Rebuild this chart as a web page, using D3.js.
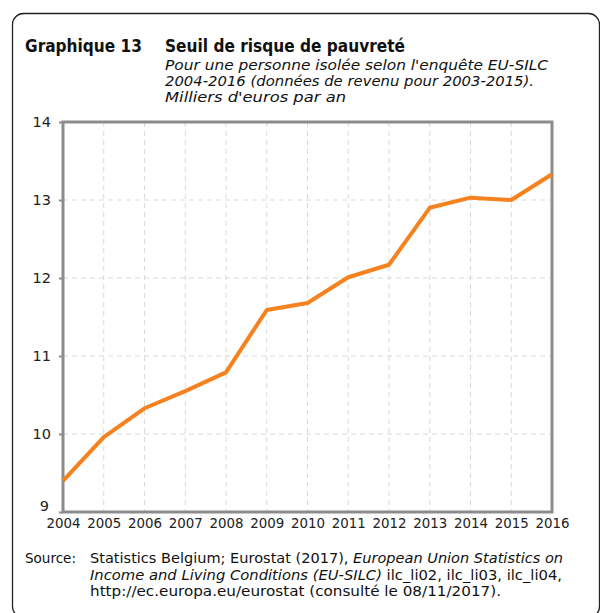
<!DOCTYPE html>
<html>
<head>
<meta charset="utf-8">
<script src="https://cdn.jsdelivr.net/npm/d3@7"></script>
<style>
  body { margin: 0; background: #fff; }
  svg { display: block; font-family: "DejaVu Sans", Verdana, sans-serif; }
</style>
</head>
<body>
<svg id="chart" width="600" height="613"></svg>
<script>
// years on x axis, threshold in thousand euros per year
var years = [2004, 2005, 2006, 2007, 2008, 2009, 2010, 2011, 2012, 2013, 2014, 2015, 2016];
var seuil = [9.40, 9.96, 10.33, 10.55, 10.79, 11.59, 11.68, 12.01, 12.17, 12.90, 13.03, 13.00, 13.33];
var yTicks = [9, 10, 11, 12, 13, 14];

var svg = d3.select('#chart');

// outer frame (bottom and right edges run off the picture)
svg.append('rect')
  .attr('x', 12.5).attr('y', 13.5)
  .attr('width', 587).attr('height', 604)
  .attr('rx', 11)
  .attr('fill', 'none')
  .attr('stroke', '#222')
  .attr('stroke-width', 1.3);

// titles
svg.append('text').attr('x', 25).attr('y', 52)
  .attr('font-size', 17.5).attr('font-weight', 'bold').attr('fill', '#111')
  .attr('textLength', 117).attr('lengthAdjust', 'spacingAndGlyphs')
  .text('Graphique 13');
svg.append('text').attr('x', 165).attr('y', 52)
  .attr('font-size', 17.5).attr('font-weight', 'bold').attr('fill', '#111')
  .attr('textLength', 240).attr('lengthAdjust', 'spacingAndGlyphs')
  .text('Seuil de risque de pauvreté');

var sub = [
  {t: "Pour une personne isolée selon l'enquête EU-SILC", w: 383},
  {t: "2004-2016 (données de revenu pour 2003-2015).", w: 369},
  {t: "Milliers d'euros par an", w: 181}
];
sub.forEach(function(s, i){
  svg.append('text').attr('x', 165).attr('y', 70 + i * 16)
    .attr('font-size', 14).attr('font-style', 'italic').attr('fill', '#111')
    .attr('textLength', s.w).attr('lengthAdjust', 'spacingAndGlyphs')
    .text(s.t);
});

var margin = {left: 63, right: 552, top: 122, bottom: 512};

var x = d3.scaleLinear().domain([2004, 2016]).range([margin.left, margin.right]);
var y = d3.scaleLinear().domain([9, 14]).range([margin.bottom, margin.top]);

// grid
var grid = svg.append('g');
grid.selectAll('.vg').data(years.slice(1, -1)).enter().append('line')
  .attr('x1', function(d){ return x(d); }).attr('x2', function(d){ return x(d); })
  .attr('y1', margin.top).attr('y2', margin.bottom)
  .attr('stroke', '#d9d9d9').attr('stroke-width', 1).attr('stroke-dasharray', '5,4');
grid.selectAll('.hg').data(yTicks.slice(1, -1)).enter().append('line')
  .attr('x1', margin.left).attr('x2', margin.right)
  .attr('y1', function(d){ return y(d); }).attr('y2', function(d){ return y(d); })
  .attr('stroke', '#d9d9d9').attr('stroke-width', 1).attr('stroke-dasharray', '5,4');

// axes
var xAxis = d3.axisBottom(x).tickValues(years).tickFormat(d3.format('d')).tickSize(0).tickPadding(6);
var gx = svg.append('g').attr('transform', 'translate(0,' + margin.bottom + ')').call(xAxis);
gx.select('.domain').remove();
gx.selectAll('text').attr('font-size', 14.5).attr('fill', '#222')
  .attr('font-family', '"DejaVu Sans", sans-serif')
  .attr('textLength', 34).attr('lengthAdjust', 'spacingAndGlyphs');

var yAxis = d3.axisLeft(y).tickValues(yTicks).tickFormat(d3.format('d')).tickSize(4).tickPadding(8);
var gy = svg.append('g').attr('transform', 'translate(' + margin.left + ',0)').call(yAxis);
gy.select('.domain').remove();
gy.selectAll('line').attr('stroke', '#8c8c8c').attr('stroke-width', 2);
gy.selectAll('text').attr('font-size', 14.5).attr('fill', '#222')
  .attr('font-family', '"DejaVu Sans", sans-serif');
gy.selectAll('.tick').filter(function(d){ return d === 9; }).select('text')
  .attr('dy', '-0.1em').attr('x', -14);

// plot frame
svg.append('rect')
  .attr('x', margin.left).attr('y', margin.top)
  .attr('width', margin.right - margin.left).attr('height', margin.bottom - margin.top)
  .attr('fill', 'none').attr('stroke', '#8c8c8c').attr('stroke-width', 3);

// line
var line = d3.line()
  .x(function(d, i){ return x(years[i]); })
  .y(function(d){ return y(d); });
svg.append('path').datum(seuil)
  .attr('d', line)
  .attr('fill', 'none')
  .attr('stroke', '#f5821f')
  .attr('stroke-width', 4)
  .attr('stroke-linejoin', 'round');

// source
svg.append('text').attr('x', 25).attr('y', 563)
  .attr('font-size', 14).attr('fill', '#111')
  .attr('textLength', 51).attr('lengthAdjust', 'spacingAndGlyphs')
  .text('Source:');
var src = svg.append('g').attr('font-size', 14).attr('fill', '#111');
var l1 = src.append('text').attr('x', 90).attr('y', 563)
  .attr('textLength', 473).attr('lengthAdjust', 'spacingAndGlyphs');
l1.append('tspan').text('Statistics Belgium; Eurostat (2017), ');
l1.append('tspan').attr('font-style', 'italic').text('European Union Statistics on');
var l2 = src.append('text').attr('x', 90).attr('y', 580)
  .attr('textLength', 472).attr('lengthAdjust', 'spacingAndGlyphs');
l2.append('tspan').attr('font-style', 'italic').text('Income and Living Conditions (EU-SILC)');
l2.append('tspan').text(' ilc_li02, ilc_li03, ilc_li04,');
src.append('text').attr('x', 90).attr('y', 596)
  .attr('textLength', 411).attr('lengthAdjust', 'spacingAndGlyphs')
  .text('http://ec.europa.eu/eurostat (consulté le 08/11/2017).');
</script>
</body>
</html>
